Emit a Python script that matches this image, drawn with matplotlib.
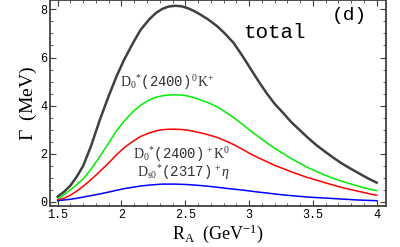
import matplotlib

matplotlib.use("Agg")
import matplotlib.pyplot as plt
from matplotlib.ticker import MultipleLocator

plt.rcParams["mathtext.fontset"] = "custom"
plt.rcParams["mathtext.rm"] = "Liberation Serif"
plt.rcParams["mathtext.it"] = "Liberation Serif:italic"
plt.rcParams["mathtext.tt"] = "Liberation Mono"

# values
r_a = [1.5, 1.55, 1.6, 1.65, 1.7, 1.76, 1.83, 1.9, 1.96, 2.02, 2.09, 2.15,
       2.22, 2.27, 2.32, 2.37, 2.42, 2.47, 2.52, 2.57, 2.62, 2.68, 2.75,
       2.81, 2.88, 2.95, 3.01, 3.07, 3.14, 3.2, 3.27, 3.33, 3.4, 3.46, 3.53,
       3.6, 3.66, 3.72, 3.79, 3.85, 3.9, 3.95, 4.0]
gamma_total = [0.22, 0.42, 0.68, 1.05, 1.5, 2.3, 3.4, 4.4, 5.2, 5.9, 6.6,
               7.15, 7.6, 7.85, 8.02, 8.12, 8.15, 8.13, 8.05, 7.93, 7.78,
               7.58, 7.3, 7.0, 6.6, 6.05, 5.55, 5.05, 4.5, 4.08, 3.68, 3.32,
               2.97, 2.67, 2.35, 2.07, 1.84, 1.62, 1.4, 1.22, 1.07, 0.93, 0.8]
gamma_d0k = [0.11, 0.3, 0.5, 0.72, 0.95, 1.35, 1.88, 2.45, 2.95, 3.35, 3.75,
             4.02, 4.24, 4.35, 4.41, 4.44, 4.45, 4.44, 4.4, 4.33, 4.24, 4.12,
             3.95, 3.75, 3.5, 3.22, 2.96, 2.72, 2.45, 2.23, 2.0, 1.8, 1.6,
             1.43, 1.26, 1.1, 0.98, 0.87, 0.76, 0.66, 0.59, 0.52, 0.47]
gamma_dpk0 = [0.08, 0.15, 0.28, 0.45, 0.65, 0.92, 1.26, 1.62, 1.95, 2.25,
              2.52, 2.72, 2.87, 2.95, 3.0, 3.02, 3.02, 3.01, 2.98, 2.93, 2.87,
              2.79, 2.68, 2.55, 2.38, 2.18, 2.0, 1.84, 1.67, 1.52, 1.38, 1.25,
              1.12, 1.01, 0.9, 0.79, 0.7, 0.61, 0.52, 0.45, 0.39, 0.33, 0.28]
gamma_dseta = [0.05, 0.08, 0.11, 0.15, 0.2, 0.26, 0.33, 0.41, 0.48, 0.55,
               0.61, 0.66, 0.7, 0.72, 0.74, 0.74, 0.74, 0.73, 0.72, 0.7, 0.68,
               0.65, 0.61, 0.57, 0.53, 0.49, 0.45, 0.41, 0.37, 0.33, 0.29,
               0.26, 0.23, 0.2, 0.18, 0.16, 0.14, 0.12, 0.1, 0.08, 0.07, 0.06,
               0.05]

fig = plt.figure(figsize=(4.0, 2.47), dpi=100)
ax = fig.add_axes([0.125, 0.166, 0.839, 0.832])

ax.plot(r_a, gamma_total, color="#404040", lw=1.8)
ax.plot(r_a, gamma_d0k, color="#00ee00", lw=1.1)
ax.plot(r_a, gamma_dpk0, color="#ff0000", lw=1.1)
ax.plot(r_a, gamma_dseta, color="#0000ff", lw=1.1)

ax.set_xlim(1.44, 4.07)
ax.set_ylim(-0.17, 8.37)
ax.xaxis.set_minor_locator(MultipleLocator(0.1))
ax.yaxis.set_major_locator(MultipleLocator(2))
ax.yaxis.set_minor_locator(MultipleLocator(0.5))
ax.set_xticks([1.5, 2, 2.5, 3, 3.5, 4])
ax.set_xticklabels(["1.5", "2", "2.5", "3", "3.5", "4"])
ax.tick_params(which="both", direction="in", top=True, right=True,
               color="#404040", labelsize=8.5, pad=2)
ax.tick_params(which="major", length=4, width=0.8)
ax.tick_params(which="minor", length=2, width=0.6)
for lab in ax.get_xticklabels() + ax.get_yticklabels():
    lab.set_family("Liberation Mono")
for sp in ax.spines.values():
    sp.set_linewidth(1.3)
    sp.set_color("#404040")

ax.set_xlabel(r"$\mathrm{R_A}\ \ \mathrm{(GeV^{-1})}$", fontsize=13, labelpad=1)
ax.set_ylabel(r"$\Gamma\ \ \mathrm{(MeV)}$", fontsize=14, labelpad=1)

ax.text(3.2, 7.05, "total", family="Liberation Mono", fontsize=15,
        ha="center", va="center")
ax.text(3.79, 7.75, "(d)", family="Liberation Mono", fontsize=14,
        ha="center", va="center")
ax.text(1.99, 4.95, r"$\mathrm{D_0}^{*}\mathtt{(2400)}^{\,0}\mathrm{K}^{+}$",
        fontsize=10, ha="left", va="center", color="#303030")
ax.text(2.09, 1.95, r"$\mathrm{D_0}^{*}\mathtt{(2400)}^{\,+}\mathrm{K}^{0}$",
        fontsize=10, ha="left", va="center", color="#303030")
ax.text(2.12, 1.2, r"$\mathrm{D_{s0}}^{*}\mathtt{(2317)}^{\,+}\eta$",
        fontsize=10, ha="left", va="center", color="#303030")

fig.savefig("out.png", dpi=100)
